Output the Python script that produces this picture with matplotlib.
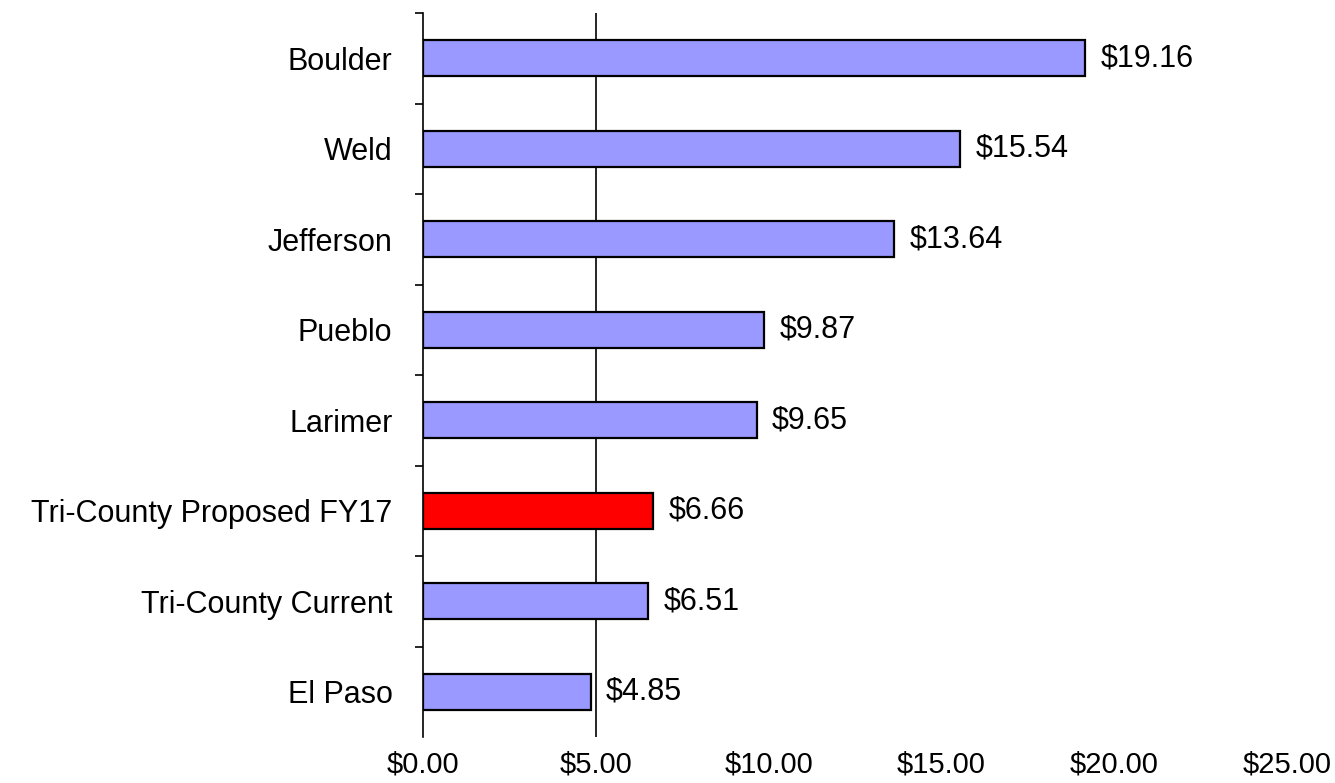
import matplotlib.pyplot as plt
from matplotlib.ticker import FixedLocator

plt.rcParams['font.family'] = ['Liberation Sans', 'DejaVu Sans']

counties = ['Boulder', 'Weld', 'Jefferson', 'Pueblo', 'Larimer',
            'Tri-County Proposed FY17', 'Tri-County Current', 'El Paso']
per_capita = [19.16, 15.54, 13.64, 9.87, 9.65, 6.66, 6.51, 4.85]
highlight = 'Tri-County Proposed FY17'
xticks = [0, 5, 10, 15, 20, 25]

fig = plt.figure(figsize=(13.35, 7.83), dpi=100)
ax = fig.add_axes([423 / 1335, 1 - 737 / 783, (1287 - 423) / 1335, (737 - 13) / 783])

ypos = list(range(len(counties)))
colors = ['#ff0000' if c == highlight else '#9999ff' for c in counties]
ax.barh(ypos, per_capita, height=0.4, color=colors, edgecolor='black', linewidth=1.6, zorder=3)
ax.axvline(5, color='black', linewidth=1.2, zorder=2)

for y, v in zip(ypos, per_capita):
    ax.annotate(f'${v:.2f}', (v, y), xytext=(11, 0), textcoords='offset points',
                va='center', ha='left', fontsize=22)

ax.set_xlim(0, 25)
ax.set_ylim(len(counties) - 0.5, -0.5)
ax.set_yticks(ypos)
ax.set_yticklabels(counties, fontsize=22)
ax.yaxis.set_minor_locator(FixedLocator([i - 0.5 for i in range(len(counties))]))
ax.tick_params(axis='y', which='major', length=0, pad=22)
ax.tick_params(axis='y', which='minor', length=6, width=1.2)

ax.set_xticks(xticks)
ax.set_xticklabels([f'${t:.2f}' for t in xticks], fontsize=21)
ax.tick_params(axis='x', length=0, pad=10)

for s in ['top', 'right', 'bottom']:
    ax.spines[s].set_visible(False)
ax.spines['left'].set_linewidth(1.2)

fig.savefig('out.png', dpi=100)
